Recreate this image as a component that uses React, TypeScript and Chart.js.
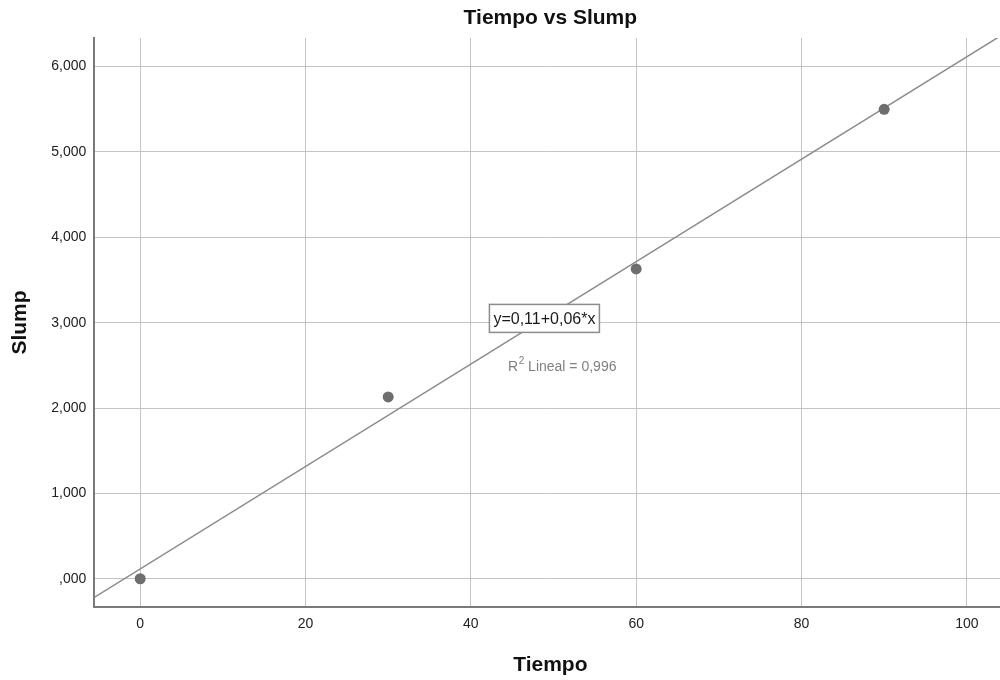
import React, { useEffect, useRef } from "react";
import { Chart, registerables } from "chart.js";

Chart.register(...registerables);

const tiempo = [0, 30, 60, 90];
const slump = [0.0, 2.13, 3.63, 5.5];
const xTickValues = [0, 20, 40, 60, 80, 100];
const yTickValues = [0, 1, 2, 3, 4, 5, 6];
const yTickLabels = [",000", "1,000", "2,000", "3,000", "4,000", "5,000", "6,000"];
const xRange = [-5.56, 104.8];
const yRange = [-0.331, 6.335];
const chartTitle = "Tiempo vs Slump";
const equationText = "y=0,11+0,06*x";
const r2Value = "0,996";

function fit(xs: number[], ys: number[]) {
  const n = xs.length;
  const mx = xs.reduce((a, b) => a + b, 0) / n;
  const my = ys.reduce((a, b) => a + b, 0) / n;
  let sxy = 0;
  let sxx = 0;
  for (let i = 0; i < n; i++) {
    sxy += (xs[i] - mx) * (ys[i] - my);
    sxx += (xs[i] - mx) * (xs[i] - mx);
  }
  const b = sxy / sxx;
  return { a: my - b * mx, b };
}

const FONT = "'Liberation Sans', Arial, sans-serif";

export default function App() {
  const ref = useRef<HTMLCanvasElement | null>(null);

  useEffect(() => {
    if (!ref.current) return;
    const { a, b } = fit(tiempo, slump);
    const annot = {
      id: "annot",
      afterDatasetsDraw(chart: any) {
        const ctx = chart.ctx;
        const xs = chart.scales.x;
        const ys = chart.scales.y;
        const area = chart.chartArea;
        ctx.save();
        // chart title centred over the plot area
        ctx.font = `bold 21px ${FONT}`;
        ctx.fillStyle = "#111";
        ctx.textAlign = "center";
        ctx.textBaseline = "middle";
        ctx.fillText(chartTitle, (area.left + area.right) / 2, 18);
        // equation box
        ctx.font = `16px ${FONT}`;
        const cx = xs.getPixelForValue(48.9);
        const cy = ys.getPixelForValue(3.05);
        const w = ctx.measureText(equationText).width + 8;
        const h = 28;
        ctx.fillStyle = "#ffffff";
        ctx.fillRect(cx - w / 2, cy - h / 2, w, h);
        ctx.strokeStyle = "#8c8c8c";
        ctx.lineWidth = 1.5;
        ctx.strokeRect(cx - w / 2, cy - h / 2, w, h);
        ctx.fillStyle = "#1a1a1a";
        ctx.textAlign = "center";
        ctx.textBaseline = "middle";
        ctx.fillText(equationText, cx, cy + 1);
        // R2 text
        const rx = xs.getPixelForValue(44.5);
        const ry = ys.getPixelForValue(2.48);
        ctx.fillStyle = "#808080";
        ctx.textAlign = "left";
        ctx.textBaseline = "middle";
        ctx.font = `14px ${FONT}`;
        ctx.fillText("R", rx, ry);
        let x = rx + ctx.measureText("R").width;
        ctx.font = `10px ${FONT}`;
        ctx.fillText("2", x + 0.5, ry - 6);
        x += ctx.measureText("2").width + 0.5;
        ctx.font = `14px ${FONT}`;
        ctx.fillText(` Lineal = ${r2Value}`, x, ry);
        ctx.restore();
      },
    };

    const chart = new Chart(ref.current, {
      type: "scatter",
      data: {
        datasets: [
          {
            type: "line",
            data: [
              { x: xRange[0], y: a + b * xRange[0] },
              { x: xRange[1], y: a + b * xRange[1] },
            ],
            borderColor: "#8a8a8a",
            borderWidth: 1.5,
            pointRadius: 0,
            fill: false,
            clip: 0,
            order: 2,
          } as any,
          {
            type: "scatter",
            data: tiempo.map((t, i) => ({ x: t, y: slump[i] })),
            backgroundColor: "#6e6e6e",
            borderWidth: 0,
            pointRadius: 5.5,
            order: 1,
          },
        ],
      },
      plugins: [annot],
      options: {
        responsive: false,
        animation: false,
        layout: { padding: { left: 0, right: 1, top: 38, bottom: 0 } },
        plugins: {
          legend: { display: false },
          tooltip: { enabled: false },
          title: { display: false },
        },
        scales: {
          x: {
            type: "linear",
            min: xRange[0],
            max: xRange[1],
            afterBuildTicks: (axis: any) => {
              axis.ticks = xTickValues.map((v) => ({ value: v }));
            },
            ticks: {
              color: "#222",
              font: { family: FONT, size: 14, lineHeight: 1.2 },
              padding: 9,
              maxRotation: 0,
              autoSkip: false,
              callback: (v: any) => String(v),
            },
            grid: { color: "#c4c4c4", lineWidth: 1, drawTicks: false },
            border: { color: "#7a7a7a", width: 2 },
            title: {
              display: true,
              text: "Tiempo",
              color: "#111",
              font: { family: FONT, size: 21, weight: "bold", lineHeight: 1.2 },
              padding: { top: 11, bottom: 2 },
            },
          },
          y: {
            type: "linear",
            min: yRange[0],
            max: yRange[1],
            afterBuildTicks: (axis: any) => {
              axis.ticks = yTickValues.map((v) => ({ value: v }));
            },
            ticks: {
              color: "#222",
              font: { family: FONT, size: 14, lineHeight: 1.2 },
              padding: 8,
              autoSkip: false,
              callback: (v: any) => {
                const i = yTickValues.indexOf(Number(v));
                return i >= 0 ? yTickLabels[i] : "";
              },
            },
            grid: { color: "#c4c4c4", lineWidth: 1, drawTicks: false },
            border: { color: "#7a7a7a", width: 2 },
            title: {
              display: true,
              text: "Slump",
              color: "#111",
              font: { family: FONT, size: 21, weight: "bold", lineHeight: 1.2 },
              padding: { top: 8, bottom: 10 },
            },
          },
        },
      },
    } as any);
    return () => chart.destroy();
  }, []);

  return (
    <div
      style={{
        position: "fixed",
        left: 0,
        top: 0,
        width: 1000,
        height: 680,
        overflow: "hidden",
        background: "#ffffff",
      }}
    >
      <canvas ref={ref} width={1012} height={680} style={{ display: "block" }} />
    </div>
  );
}
